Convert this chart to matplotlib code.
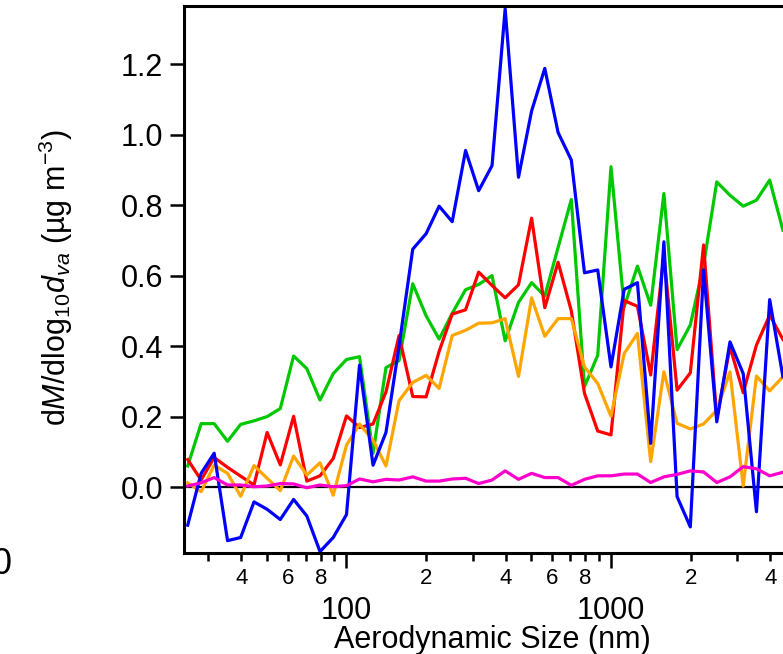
"""Mass size distribution, dM/dlog10 dva vs aerodynamic size."""

import matplotlib

matplotlib.use("Agg")
import matplotlib.pyplot as plt  # noqa: E402
from matplotlib.ticker import FixedLocator, FuncFormatter, NullFormatter  # noqa: E402

plt.rcParams["font.family"] = ["Liberation Sans", "DejaVu Sans"]
plt.rcParams["mathtext.fontset"] = "custom"
plt.rcParams["mathtext.rm"] = "Liberation Sans"
plt.rcParams["mathtext.it"] = "Liberation Sans:italic"

# bin centres (nm)
size_nm = [25.1, 28.2, 31.6, 35.5, 39.8, 44.7, 50.1, 56.2, 63.1, 70.8, 79.4, 89.1,
           100, 112, 126, 141, 158, 178, 200, 224, 251, 282, 316, 355, 398, 447,
           501, 562, 631, 708, 794, 891, 1000, 1122, 1259, 1413, 1585, 1778, 1995,
           2239, 2512, 2818, 3162, 3548, 3981, 4467]

green = [0.06, 0.18, 0.18, 0.13, 0.178, 0.188, 0.20, 0.223, 0.372, 0.336, 0.247, 0.322,
         0.362, 0.37, 0.096, 0.339, 0.359, 0.577, 0.486, 0.42, 0.493, 0.56, 0.575, 0.60,
         0.415, 0.524, 0.58, 0.542, 0.68, 0.816, 0.285, 0.374, 0.909, 0.511, 0.627, 0.516,
         0.833, 0.39, 0.46, 0.63, 0.866, 0.828, 0.797, 0.814, 0.871, 0.729]
blue = [-0.108, 0.039, 0.096, -0.152, -0.143, -0.042, -0.063, -0.092, -0.035, -0.082,
        -0.183, -0.143, -0.078, 0.346, 0.062, 0.155, 0.40, 0.675, 0.719, 0.797, 0.753,
        0.955, 0.841, 0.912, 1.357, 0.879, 1.067, 1.188, 1.006, 0.928, 0.608, 0.616,
        0.341, 0.561, 0.58, 0.124, 0.696, -0.027, -0.113, 0.616, 0.185, 0.412, 0.322,
        -0.07, 0.532, 0.313]
red = [0.078, 0.02, 0.084, 0.056, 0.031, 0.006, 0.155, 0.063, 0.201, 0.017, 0.032, 0.081,
       0.202, 0.169, 0.179, 0.27, 0.43, 0.257, 0.256, 0.385, 0.491, 0.503, 0.61, 0.572,
       0.537, 0.574, 0.763, 0.509, 0.638, 0.50, 0.266, 0.159, 0.148, 0.529, 0.513, 0.318,
       0.658, 0.275, 0.324, 0.687, 0.195, 0.398, 0.268, 0.403, 0.488, 0.419]
orange = [0.012, -0.013, 0.062, 0.039, -0.026, 0.061, 0.025, -0.01, 0.088, 0.034, 0.069,
          -0.023, 0.119, 0.179, 0.133, 0.06, 0.245, 0.297, 0.317, 0.28, 0.43, 0.445, 0.465,
          0.466, 0.478, 0.314, 0.537, 0.428, 0.478, 0.478, 0.341, 0.294, 0.201, 0.379,
          0.436, 0.072, 0.327, 0.181, 0.165, 0.179, 0.218, 0.327, 0.003, 0.315, 0.273, 0.313]
magenta = [0.003, 0.012, 0.027, 0.006, 0.006, 0.001, 0.003, 0.01, 0.009, -0.002, 0.006,
           0.001, 0.004, 0.023, 0.015, 0.022, 0.02, 0.029, 0.017, 0.017, 0.023, 0.025, 0.01,
           0.02, 0.046, 0.022, 0.039, 0.027, 0.027, 0.005, 0.022, 0.032, 0.032, 0.037, 0.037,
           0.013, 0.029, 0.036, 0.046, 0.043, 0.013, 0.029, 0.058, 0.052, 0.032, 0.042]

SERIES = [(green, "#00c800"), (red, "#ff0000"), (orange, "#ffa500"),
          (blue, "#0000ff"), (magenta, "#ff00cc")]

minor_ticks = [30, 40, 50, 60, 70, 80, 90, 200, 300, 400, 500, 600, 700, 800, 900,
               2000, 3000, 4000, 5000]
minor_labelled = [40, 60, 80, 200, 400, 600, 800, 2000, 4000]


def minor_label(v, pos):
    v = int(round(v))
    if v not in minor_labelled:
        return ""
    return str(v)[0]


W, H = 783, 654
fig = plt.figure(figsize=(W / 100, H / 100), dpi=100)
# right spine sits just past the right edge of the picture
ax = fig.add_axes([184 / W, (H - 553) / H, (800 - 184) / W, (553 - 6) / H])

for ys, c in SERIES:
    ax.plot(size_nm, ys, color=c, lw=2.3)
ax.axhline(0, color="black", lw=1.6, zorder=1)

ax.set_xscale("log")
ax.set_xlim(24.3, 5184)
ax.set_ylim(-0.187, 1.365)

ax.xaxis.set_major_locator(FixedLocator([100, 1000]))
ax.xaxis.set_major_formatter(FuncFormatter(lambda v, p: f"{v:.0f}"))
ax.xaxis.set_minor_locator(FixedLocator(minor_ticks))
ax.xaxis.set_minor_formatter(FuncFormatter(minor_label))
ax.set_yticks([0.0, 0.2, 0.4, 0.6, 0.8, 1.0, 1.2])
ax.yaxis.set_major_formatter(FuncFormatter(lambda v, p: f"{v:.1f}"))
ax.yaxis.set_minor_formatter(NullFormatter())

ax.tick_params(axis="x", which="major", direction="out", length=11, width=1.8,
               pad=20, labelsize=22)
ax.tick_params(axis="x", which="minor", direction="out", length=6, width=1.8,
               pad=5, labelsize=16)
ax.tick_params(axis="y", which="major", direction="out", length=10, width=1.8,
               pad=5, labelsize=22, right=False)
ax.tick_params(top=False, right=False)
for s in ax.spines.values():
    s.set_linewidth(2.2)

ax.set_xlabel("Aerodynamic Size (nm)", fontsize=22, labelpad=-1)
fig.text(56 / W, 1 - 278 / H,
         r"d$\mathit{M}$/dlog$_{10}$$\mathit{d}_{va}$ (µg m$^{-3}$)",
         rotation=90, ha="center", va="center", fontsize=22)
# edge of a neighbouring panel's label, cut by the crop
fig.text(2 / W, 1 - 565 / H, "0", ha="center", va="center", fontsize=26)

fig.savefig("out.png", dpi=100)
